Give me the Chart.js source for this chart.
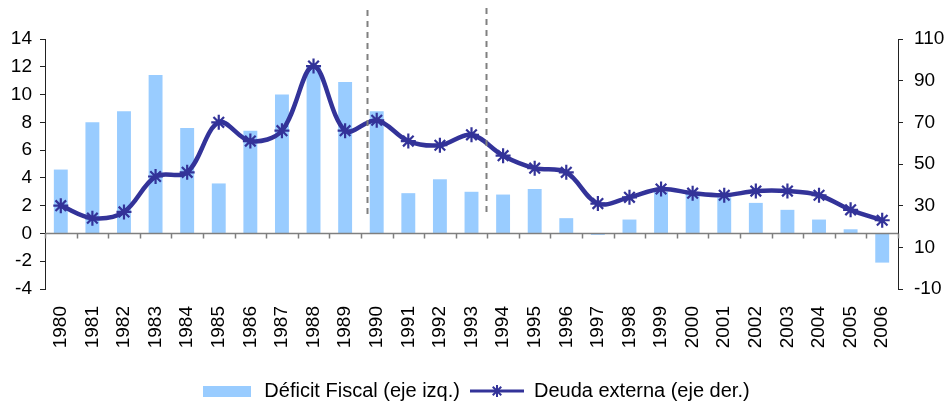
<!DOCTYPE html>
<html>
<head>
<meta charset="utf-8">
<script src="https://cdn.jsdelivr.net/npm/chart.js@4/dist/chart.umd.min.js"></script>
<style>
  html, body { margin: 0; padding: 0; background: #fff; overflow: hidden; }
  #wrap { width: 950px; height: 403px; }
</style>
</head>
<body>
<div id="wrap"><canvas id="chart" width="950" height="403"></canvas></div>
<script>
const years = ['1980', '1981', '1982', '1983', '1984', '1985', '1986', '1987', '1988', '1989',
  '1990', '1991', '1992', '1993', '1994', '1995', '1996', '1997', '1998', '1999',
  '2000', '2001', '2002', '2003', '2004', '2005', '2006'];
const deficitFiscal = [4.6, 8.0, 8.8, 11.4, 7.6, 3.6, 7.4, 10.0, 12.0, 10.9,
  8.8, 2.9, 3.9, 3.0, 2.8, 3.2, 1.1, -0.1, 1.0, 3.0,
  2.9, 2.6, 2.2, 1.7, 1.0, 0.3, -2.1];
const deudaExterna = [30, 24, 27, 44, 46, 70, 61, 66, 97, 66,
  71, 61, 59, 64, 54, 48, 46, 31, 34, 38,
  36, 35, 37, 37, 35, 28, 23];
const leftTicks = [-4, 14, 2];
const rightTicks = [-10, 110, 20];

const BAR = '#99CCFF';
const LINE = '#333399';
const FONT = "'Liberation Sans', Arial, sans-serif";

// legend swatches drawn on small canvases
function swatchBar() {
  const c = document.createElement('canvas');
  c.width = 48; c.height = 11;
  const g = c.getContext('2d');
  g.fillStyle = BAR;
  g.fillRect(0, 0, 48, 11);
  return c;
}
function swatchLine() {
  const c = document.createElement('canvas');
  c.width = 54; c.height = 16;
  const g = c.getContext('2d');
  g.strokeStyle = LINE;
  g.lineWidth = 3;
  g.beginPath(); g.moveTo(0, 8); g.lineTo(54, 8); g.stroke();
  g.lineWidth = 2;
  const r = 6;
  g.beginPath();
  for (let k = 0; k < 4; k++) {
    const a = k * Math.PI / 4;
    g.moveTo(27 - r * Math.cos(a), 8 - r * Math.sin(a));
    g.lineTo(27 + r * Math.cos(a), 8 + r * Math.sin(a));
  }
  g.stroke();
  return c;
}

// zero line with category ticks, plus the two dashed period markers
const extras = {
  id: 'extras',
  afterDatasetsDraw(chart) {
    const { ctx, chartArea, scales } = chart;
    const x = scales.x, y = scales.y;
    const y0 = Math.round(y.getPixelForValue(0)) + 0.5;
    ctx.save();
    ctx.strokeStyle = '#7f7f7f';
    ctx.lineWidth = 1.5;
    ctx.beginPath();
    ctx.moveTo(chartArea.left, y0);
    ctx.lineTo(chartArea.right, y0);
    for (let i = 0; i <= years.length; i++) {
      const px = Math.round(x.getPixelForValue(i - 0.5)) + 0.5;
      ctx.moveTo(px, y0);
      ctx.lineTo(px, y0 + 5);
    }
    ctx.stroke();

    ctx.strokeStyle = '#808080';
    ctx.lineWidth = 2;
    ctx.setLineDash([6, 5]);
    [[9.7, 10, 215], [13.45, 8, 213]].forEach(([v, top, bottom]) => {
      const px = Math.round(x.getPixelForValue(v)) + 0.5;
      ctx.beginPath();
      ctx.moveTo(px, top);
      ctx.lineTo(px, bottom);
      ctx.stroke();
    });
    ctx.restore();
  }
};

new Chart(document.getElementById('chart'), {
  data: {
    labels: years,
    datasets: [
      {
        type: 'line',
        label: 'Deuda externa (eje der.)',
        data: deudaExterna,
        yAxisID: 'y1',
        borderColor: LINE,
        backgroundColor: LINE,
        borderWidth: 4.5,
        tension: 0.35,
        pointStyle: 'star',
        pointRadius: 7.5,
        pointBorderWidth: 2.2,
        pointBorderColor: LINE,
        order: 0
      },
      {
        type: 'bar',
        label: 'Déficit Fiscal (eje izq.)',
        data: deficitFiscal,
        yAxisID: 'y',
        backgroundColor: BAR,
        borderWidth: 0,
        categoryPercentage: 1,
        barPercentage: 0.44,
        order: 1
      }
    ]
  },
  options: {
    responsive: false,
    animation: false,
    layout: { padding: { top: 39, left: 0, right: 0, bottom: -8 } },
    plugins: {
      tooltip: { enabled: false },
      legend: {
        position: 'bottom',
        labels: {
          usePointStyle: true,
          pointStyleWidth: 54,
          color: '#000',
          font: { family: FONT, size: 20 },
          padding: 10,
          generateLabels(chart) {
            return [
              { text: 'Déficit Fiscal (eje izq.)', pointStyle: swatchBar(), datasetIndex: 1, lineWidth: 0, fontColor: '#000' },
              { text: 'Deuda externa (eje der.)', pointStyle: swatchLine(), datasetIndex: 0, lineWidth: 0, fontColor: '#000' }
            ];
          }
        }
      }
    },
    scales: {
      x: {
        position: 'bottom',
        offset: true,
        grid: { display: false, drawTicks: false },
        border: { display: false },
        ticks: {
          color: '#000',
          font: { family: FONT, size: 19 },
          maxRotation: 90,
          minRotation: 90,
          autoSkip: false,
          padding: 17
        },
        afterFit(s) { s.height = 82; }
      },
      y: {
        position: 'left',
        min: leftTicks[0],
        max: leftTicks[1],
        ticks: {
          stepSize: leftTicks[2],
          color: '#000',
          font: { family: FONT, size: 19 },
          padding: 8
        },
        grid: { drawOnChartArea: false, drawTicks: true, tickLength: 5, color: '#222' },
        border: { display: true, color: '#222', width: 1 },
        afterFit(s) { s.width = 45; }
      },
      y1: {
        position: 'right',
        min: rightTicks[0],
        max: rightTicks[1],
        ticks: {
          stepSize: rightTicks[2],
          color: '#000',
          font: { family: FONT, size: 19 },
          padding: 11
        },
        grid: { drawOnChartArea: false, drawTicks: true, tickLength: 5, color: '#222' },
        border: { display: true, color: '#222', width: 1 },
        afterFit(s) { s.width = 52; }
      }
    }
  },
  plugins: [extras]
});
</script>
</body>
</html>
